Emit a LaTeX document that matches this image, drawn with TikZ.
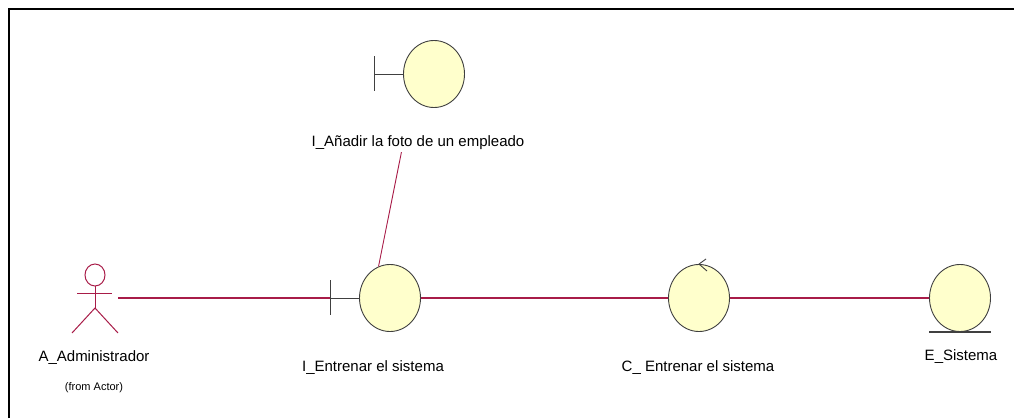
\documentclass[tikz,border=0pt]{standalone}
\usepackage{fontspec}
\setmainfont{Liberation Sans}
\usetikzlibrary{shapes.geometric}
\definecolor{assoc}{HTML}{A81C48}
\definecolor{objfill}{HTML}{FFFFCC}
\definecolor{objline}{HTML}{404040}

\begin{document}
\begin{tikzpicture}[x=1pt, y=-1pt,
    obj/.style={ellipse, draw=objline, fill=objfill, line width=0.9pt,
        minimum width=61pt, minimum height=67pt, inner sep=0pt},
    lbl/.style={font=\fontsize{15}{18}\selectfont, inner sep=2pt},
    link/.style={draw=assoc, line width=1.4pt}]
    \useasboundingbox (0,0) rectangle (1014,418);

    % marco
    \draw[line width=2pt] (9,418) -- (9,9) -- (1014,9);

    % actor A_Administrador
    \coordinate (actor) at (95,298);
    \coordinate (actorR) at (118,298);
    \draw[assoc, line width=1pt] (95,275) circle[x radius=10, y radius=11];
    \draw[assoc, line width=1pt] (95,286) -- (95,308);
    \draw[assoc, line width=1pt] (77,293) -- (112,293);
    \draw[assoc, line width=1pt] (72,333) -- (95,308) -- (118,333);
    \node[lbl] (actorLbl) at (94,358) {A\_Administrador};
    \node[font=\fontsize{11}{13}\selectfont] (actorFrom) at (94,388) {(from Actor)};

    % interfaz I_Añadir la foto de un empleado
    \node[obj] (ia) at (434,74) {};
    \draw[objline, line width=1pt] (374,56) -- (374,91);
    \coordinate (iaBar) at (374,74);
    \draw[objline, line width=1pt] (iaBar) -- (ia.west);
    \node[lbl] (iaLbl) at (418,143) {I\_Añadir la foto de un empleado};

    % interfaz I_Entrenar el sistema
    \node[obj] (ie) at (390,298) {};
    \draw[objline, line width=1pt] (330,280) -- (330,315);
    \coordinate (ieBar) at (330,298);
    \draw[objline, line width=1pt] (ieBar) -- (ie.west);
    \node[lbl] (ieLbl) at (373,368) {I\_Entrenar el sistema};

    % control C_ Entrenar el sistema
    \node[obj] (ctrl) at (699,298) {};
    \draw[objline, line width=0.9pt] (706,259) -- (ctrl.north) -- (707,271);
    \node[lbl] (ctrlLbl) at (698,368) {C\_ Entrenar el sistema};

    % entidad E_Sistema
    \node[obj] (ent) at (960,298) {};
    \draw[objline, line width=1.2pt] (ent.south -| ent.west) -- (ent.south -| ent.east);
    \node[lbl] (entLbl) at (961,357) {E\_Sistema};

    % enlaces
    \draw[link] (actorR) -- (ieBar);
    \draw[link] (ie.east) -- (ctrl.west);
    \draw[link] (ctrl.east) -- (ent.west);
    \draw[assoc, line width=0.9pt] (iaLbl.209) -- (ie.110);
\end{tikzpicture}
\end{document}
